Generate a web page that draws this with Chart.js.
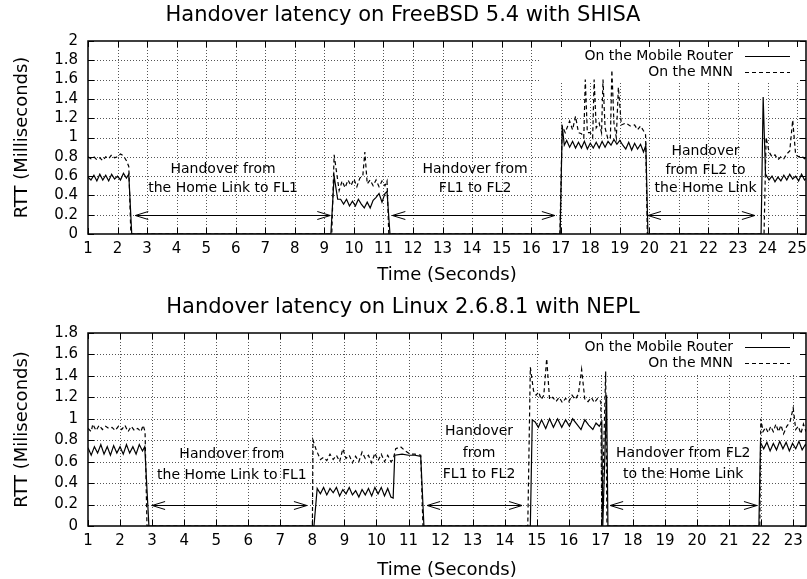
<!DOCTYPE html>
<html>
<head>
<meta charset="utf-8">
<title>Handover latency</title>
<script src="https://cdn.jsdelivr.net/npm/chart.js@4.4.0/dist/chart.umd.min.js"></script>
<style>
  body { margin: 0; background: #fff; }
  canvas { display: block; }
</style>
</head>
<body>
<canvas id="topChart" width="807" height="290"></canvas>
<canvas id="bottomChart" width="807" height="289"></canvas>
<script>
// RTT samples as [time (s), rtt (ms)]
const topRouter = [
  [1.0,0.59],[1.1,0.56],[1.2,0.61],[1.3,0.55],[1.4,0.62],[1.5,0.56],[1.6,0.61],[1.7,0.55],[1.8,0.62],[1.9,0.57],
  [2.0,0.60],[2.1,0.56],[2.2,0.63],[2.3,0.58],[2.38,0.62],[2.48,0],
  [9.22,0],[9.33,0.60],[9.45,0.36],[9.55,0.36],[9.65,0.31],[9.75,0.36],[9.85,0.29],[9.95,0.34],[10.05,0.29],[10.15,0.36],
  [10.25,0.31],[10.35,0.27],[10.45,0.33],[10.55,0.27],[10.65,0.35],[10.75,0.38],[10.85,0.42],[10.95,0.33],[11.05,0.42],[11.12,0.44],[11.22,0],
  [16.98,0],[17.05,1.12],[17.12,0.92],[17.2,0.97],[17.3,0.90],[17.4,0.96],[17.5,0.89],[17.6,0.95],[17.7,0.89],[17.8,0.96],
  [17.9,0.88],[18.0,0.94],[18.1,0.89],[18.2,0.95],[18.3,0.89],[18.4,0.96],[18.5,0.90],[18.6,0.96],[18.7,0.92],[18.8,0.98],
  [18.9,0.93],[19.0,0.97],[19.1,0.92],[19.2,0.88],[19.3,0.95],[19.4,0.87],[19.5,0.94],[19.6,0.88],[19.7,0.93],[19.8,0.85],
  [19.88,0.92],[19.95,0],
  [23.78,0],[23.85,1.42],[23.93,0.62],[24.05,0.56],[24.15,0.60],[24.25,0.54],[24.35,0.59],[24.45,0.55],[24.55,0.61],[24.65,0.56],
  [24.75,0.62],[24.85,0.57],[24.95,0.60],[25.05,0.55],[25.15,0.62],[25.25,0.56],[25.35,0.59],[25.45,0.54]
];
const topMnn = [
  [1.0,0.80],[1.1,0.78],[1.2,0.80],[1.3,0.77],[1.4,0.79],[1.5,0.76],[1.6,0.80],[1.7,0.78],[1.8,0.82],[1.9,0.79],
  [2.0,0.80],[2.1,0.83],[2.2,0.81],[2.3,0.76],[2.38,0.70],[2.45,0],
  [9.25,0],[9.33,0.82],[9.5,0.45],[9.6,0.55],[9.7,0.48],[9.8,0.56],[9.9,0.50],[10.0,0.57],[10.1,0.49],[10.2,0.58],
  [10.3,0.60],[10.37,0.85],[10.45,0.52],[10.55,0.56],[10.65,0.50],[10.75,0.56],[10.85,0.49],[10.95,0.55],[11.05,0.50],[11.12,0.55],[11.18,0],
  [16.97,0],[17.05,1.12],[17.15,1.05],[17.3,1.17],[17.4,1.08],[17.5,1.22],[17.6,1.05],[17.7,1.04],[17.78,1.0],[17.83,1.60],
  [17.9,1.05],[18.0,1.05],[18.08,1.0],[18.13,1.60],[18.2,1.1],[18.3,1.15],[18.38,1.05],[18.43,1.60],[18.5,1.1],[18.6,0.98],
  [18.68,1.0],[18.73,1.70],[18.8,1.15],[18.88,1.0],[18.95,1.52],[19.05,1.13],[19.2,1.15],[19.35,1.12],[19.5,1.13],[19.6,1.08],
  [19.7,1.12],[19.8,1.07],[19.87,1.03],[19.93,0],
  [23.88,0],[23.95,1.0],[24.05,0.85],[24.15,0.80],[24.25,0.82],[24.35,0.77],[24.45,0.80],[24.55,0.78],[24.65,0.83],[24.75,0.86],
  [24.85,1.18],[24.95,0.82],[25.05,0.80],[25.15,0.81],[25.25,0.78],[25.35,0.80],[25.45,0.78]
];
const bottomRouter = [
  [1.0,0.73],[1.1,0.66],[1.2,0.74],[1.3,0.68],[1.4,0.76],[1.5,0.67],[1.6,0.74],[1.7,0.66],[1.8,0.75],[1.9,0.68],
  [2.0,0.74],[2.1,0.67],[2.2,0.76],[2.3,0.68],[2.4,0.74],[2.5,0.67],[2.6,0.76],[2.7,0.70],[2.77,0.74],[2.9,0],
  [8.05,0],[8.15,0.35],[8.25,0.30],[8.35,0.36],[8.45,0.29],[8.55,0.35],[8.65,0.31],[8.75,0.36],[8.85,0.28],[8.95,0.34],
  [9.05,0.30],[9.15,0.36],[9.25,0.29],[9.35,0.33],[9.45,0.27],[9.55,0.34],[9.65,0.29],[9.75,0.35],[9.85,0.28],[9.95,0.36],
  [10.05,0.30],[10.15,0.36],[10.25,0.28],[10.35,0.35],[10.45,0.27],[10.52,0.26],[10.57,0.66],[10.8,0.67],[11.0,0.66],[11.2,0.66],
  [11.38,0.65],[11.48,0],
  [14.8,0],[14.86,0.99],[14.95,0.97],[15.05,0.92],[15.15,0.99],[15.28,0.91],[15.4,1.0],[15.52,0.92],[15.65,1.0],[15.78,0.92],
  [15.9,0.99],[16.02,0.93],[16.12,1.0],[16.25,0.95],[16.38,0.90],[16.5,0.99],[16.62,0.94],[16.75,0.90],[16.85,0.96],[16.95,0.93],
  [17.03,0.97],[17.06,0],[17.18,1.22],[17.22,0],
  [21.93,0],[21.98,0.78],[22.08,0.72],[22.18,0.78],[22.28,0.70],[22.38,0.77],[22.48,0.71],[22.58,0.79],[22.68,0.72],[22.78,0.78],
  [22.88,0.70],[22.98,0.77],[23.08,0.72],[23.18,0.79],[23.28,0.71],[23.38,0.76],[23.48,0.72]
];
const bottomMnn = [
  [1.0,0.91],[1.1,0.88],[1.15,0.95],[1.25,0.89],[1.35,0.94],[1.45,0.90],[1.55,0.93],[1.65,0.91],[1.75,0.92],[1.85,0.89],
  [1.95,0.93],[2.05,0.90],[2.15,0.94],[2.25,0.88],[2.35,0.93],[2.45,0.89],[2.55,0.91],[2.65,0.88],[2.72,0.94],[2.78,0.88],[2.84,0],
  [8.0,0],[8.02,0.80],[8.12,0.71],[8.25,0.62],[8.35,0.64],[8.45,0.61],[8.55,0.67],[8.65,0.62],[8.75,0.66],[8.85,0.60],
  [8.95,0.72],[9.05,0.63],[9.15,0.66],[9.25,0.59],[9.35,0.65],[9.45,0.60],[9.55,0.69],[9.65,0.63],[9.75,0.66],[9.85,0.59],
  [9.95,0.68],[10.05,0.61],[10.15,0.67],[10.25,0.60],[10.35,0.66],[10.45,0.60],[10.52,0.62],[10.6,0.72],[10.75,0.74],[10.9,0.70],
  [11.05,0.67],[11.2,0.67],[11.38,0.66],[11.45,0],
  [14.72,0],[14.8,1.48],[14.9,1.26],[14.98,1.22],[15.06,1.25],[15.14,1.18],[15.22,1.22],[15.31,1.56],[15.4,1.18],[15.5,1.20],
  [15.6,1.16],[15.7,1.20],[15.8,1.15],[15.9,1.19],[16.0,1.16],[16.1,1.22],[16.2,1.18],[16.3,1.23],[16.4,1.46],[16.5,1.18],
  [16.6,1.16],[16.7,1.20],[16.8,1.15],[16.9,1.19],[17.0,1.16],[17.03,0],[17.15,1.44],[17.19,0],
  [21.96,0],[21.99,1.0],[22.06,0.88],[22.14,0.92],[22.22,0.87],[22.3,0.93],[22.38,0.88],[22.46,0.95],[22.54,0.88],[22.62,0.94],
  [22.7,0.86],[22.8,0.93],[22.9,0.97],[23.0,1.1],[23.08,0.90],[23.16,0.93],[23.24,0.86],[23.32,0.95],[23.4,0.88],[23.48,0.98]
];

const seriesLabels = ['On the Mobile Router', 'On the MNN'];

// handover periods: arrow [from, to] (s), drawn at arrowLevel (ms)
const arrowLevel = 0.2;
const topArrows = [[2.6, 9.2], [11.3, 16.8], [19.95, 23.57]];
const bottomArrows = [[3.0, 7.83], [11.58, 14.54], [17.29, 21.87]];

// labels: [time, rtt, text]
const topNotes = [
  [5.57, 0.67, 'Handover from'], [5.57, 0.47, 'the Home Link to FL1'],
  [14.1, 0.67, 'Handover from'], [14.1, 0.47, 'FL1 to FL2'],
  [21.9, 0.86, 'Handover'], [21.9, 0.66, 'from FL2 to'], [21.9, 0.47, 'the Home Link']
];
const bottomNotes = [
  [5.49, 0.67, 'Handover from'], [5.49, 0.47, 'the Home Link to FL1'],
  [13.2, 0.88, 'Handover'], [13.2, 0.68, 'from'], [13.2, 0.48, 'FL1 to FL2'],
  [19.57, 0.68, 'Handover from FL2'], [19.57, 0.48, 'to the Home Link']
];

const FONT = 'DejaVu Sans';
Chart.defaults.font.family = FONT;
Chart.defaults.color = '#000';

// gnuplot look: dotted grid, key box, inward ticks, border, arrows and labels
const gnuplotFrame = {
  id: 'gnuplotFrame',
  beforeDatasetsDraw(chart, args, opts) {
    const {ctx, chartArea: a, scales: {x, y}} = chart;
    ctx.save();
    ctx.strokeStyle = '#555';
    ctx.lineWidth = 1;
    ctx.setLineDash([1, 2]);
    ctx.beginPath();
    x.ticks.forEach(t => {
      const px = Math.round(x.getPixelForValue(t.value)) + 0.5;
      if (px <= a.left + 2 || px >= a.right - 2) return;
      ctx.moveTo(px, a.top); ctx.lineTo(px, a.bottom);
    });
    y.ticks.forEach(t => {
      const py = Math.round(y.getPixelForValue(t.value)) + 0.5;
      if (py <= a.top + 2 || py >= a.bottom - 2) return;
      ctx.moveTo(a.left, py); ctx.lineTo(a.right, py);
    });
    ctx.stroke();
    ctx.setLineDash([]);
    ctx.fillStyle = '#fff';
    ctx.fillRect(opts.keyLeft, a.top + 1, a.right - opts.keyLeft - 1, opts.keyHeight);
    ctx.restore();
  },
  afterDatasetsDraw(chart, args, opts) {
    const {ctx, chartArea: a, scales: {x, y}} = chart;
    ctx.save();
    ctx.strokeStyle = '#000';
    ctx.fillStyle = '#000';
    ctx.lineWidth = 1;
    ctx.beginPath();
    x.ticks.forEach(t => {
      const px = Math.round(x.getPixelForValue(t.value)) + 0.5;
      ctx.moveTo(px, a.bottom); ctx.lineTo(px, a.bottom - 6);
      ctx.moveTo(px, a.top); ctx.lineTo(px, a.top + 6);
    });
    y.ticks.forEach(t => {
      const py = Math.round(y.getPixelForValue(t.value)) + 0.5;
      ctx.moveTo(a.left, py); ctx.lineTo(a.left + 6, py);
      ctx.moveTo(a.right, py); ctx.lineTo(a.right - 6, py);
    });
    ctx.stroke();
    ctx.lineWidth = 1.5;
    ctx.strokeRect(a.left, a.top, a.right - a.left, a.bottom - a.top);

    ctx.lineWidth = 1;
    const py = Math.round(y.getPixelForValue(arrowLevel)) + 0.5;
    opts.arrows.forEach(([x1, x2]) => {
      const p1 = x.getPixelForValue(x1), p2 = x.getPixelForValue(x2);
      ctx.beginPath();
      ctx.moveTo(p1, py); ctx.lineTo(p2, py);
      ctx.moveTo(p1 + 13, py - 4); ctx.lineTo(p1, py); ctx.lineTo(p1 + 13, py + 4);
      ctx.moveTo(p2 - 13, py - 4); ctx.lineTo(p2, py); ctx.lineTo(p2 - 13, py + 4);
      ctx.stroke();
    });

    ctx.font = '14px "' + FONT + '"';
    ctx.textAlign = 'center';
    ctx.textBaseline = 'middle';
    opts.notes.forEach(([nx, ny, text]) => {
      ctx.fillText(text, x.getPixelForValue(nx), y.getPixelForValue(ny));
    });

    ctx.textAlign = 'right';
    chart.data.datasets.forEach((ds, i) => {
      const ky = Math.round(a.top + opts.keyTop + i * opts.keyGap) + 0.5;
      ctx.fillText(ds.label, opts.keyText, ky);
      ctx.setLineDash(ds.borderDash || []);
      ctx.lineWidth = ds.borderWidth;
      ctx.beginPath();
      ctx.moveTo(opts.keyLine[0], ky);
      ctx.lineTo(opts.keyLine[1], ky);
      ctx.stroke();
      ctx.setLineDash([]);
    });
    ctx.restore();
  }
};

function makeChart(id, cfg) {
  const toPoints = rows => rows.map(([t, v]) => ({x: t, y: v}));
  return new Chart(document.getElementById(id), {
    type: 'line',
    data: {
      datasets: [
        { label: seriesLabels[0], data: toPoints(cfg.router), borderColor: '#000',
          borderWidth: 1.2, pointRadius: 0, tension: 0, fill: false },
        { label: seriesLabels[1], data: toPoints(cfg.mnn), borderColor: '#000',
          borderWidth: 1.2, borderDash: [4, 3], pointRadius: 0, tension: 0, fill: false }
      ]
    },
    options: {
      responsive: false,
      animation: false,
      devicePixelRatio: 1,
      layout: { padding: { left: 0, right: 1, top: 0, bottom: 0 } },
      plugins: {
        legend: { display: false },
        tooltip: { enabled: false },
        title: {
          display: true, text: cfg.title, color: '#000',
          font: { family: FONT, size: 21, weight: 'normal', lineHeight: 1.2 },
          padding: cfg.titlePad
        },
        gnuplotFrame: {
          arrows: cfg.arrows, notes: cfg.notes,
          keyLeft: 540, keyHeight: 41, keyTop: cfg.keyTop, keyGap: 15.5,
          keyText: 733, keyLine: [745, 790]
        }
      },
      scales: {
        x: {
          type: 'linear', min: 1, max: cfg.xMax,
          afterFit(s) { s.height = cfg.xHeight; s.paddingLeft = 0; s.paddingRight = 0; },
          grid: { display: false, drawTicks: false },
          border: { display: false },
          ticks: {
            stepSize: 1, includeBounds: false, autoSkip: false, maxRotation: 0, padding: 6,
            color: '#000', font: { family: FONT, size: 15 },
            callback: v => String(v)
          },
          title: {
            display: true, text: 'Time (Seconds)', color: '#000',
            font: { family: FONT, size: 18, lineHeight: 1 },
            padding: { top: 0, bottom: cfg.xTitlePad }
          }
        },
        y: {
          min: 0, max: cfg.yMax,
          afterFit(s) { s.width = 88; s.paddingTop = 0; s.paddingBottom = 0; },
          grid: { display: false, drawTicks: false },
          border: { display: false },
          ticks: {
            stepSize: 0.2, includeBounds: false, autoSkip: false, padding: 10,
            color: '#000', font: { family: FONT, size: 15 },
            callback: v => String(Math.round(v * 10) / 10)
          },
          title: {
            display: true, text: cfg.yTitle, color: '#000',
            font: { family: FONT, size: 18, lineHeight: 1 },
            padding: { top: 13, bottom: 0 }
          }
        }
      }
    },
    plugins: [gnuplotFrame]
  });
}

makeChart('topChart', {
  title: 'Handover latency on FreeBSD 5.4 with SHISA',
  yTitle: 'RTT (Milliseconds)',
  router: topRouter, mnn: topMnn,
  arrows: topArrows, notes: topNotes,
  xMax: 25.3, yMax: 2,
  titlePad: { top: 3, bottom: 12.8 },
  xHeight: 56, xTitlePad: 6, keyTop: 15
});

makeChart('bottomChart', {
  title: 'Handover latency on Linux 2.6.8.1 with NEPL',
  yTitle: 'RTT (Miliseconds)',
  router: bottomRouter, mnn: bottomMnn,
  arrows: bottomArrows, notes: bottomNotes,
  xMax: 23.4, yMax: 1.8,
  titlePad: { top: 4.5, bottom: 13.3 },
  xHeight: 53, xTitlePad: 0, keyTop: 14
});
</script>
</body>
</html>
